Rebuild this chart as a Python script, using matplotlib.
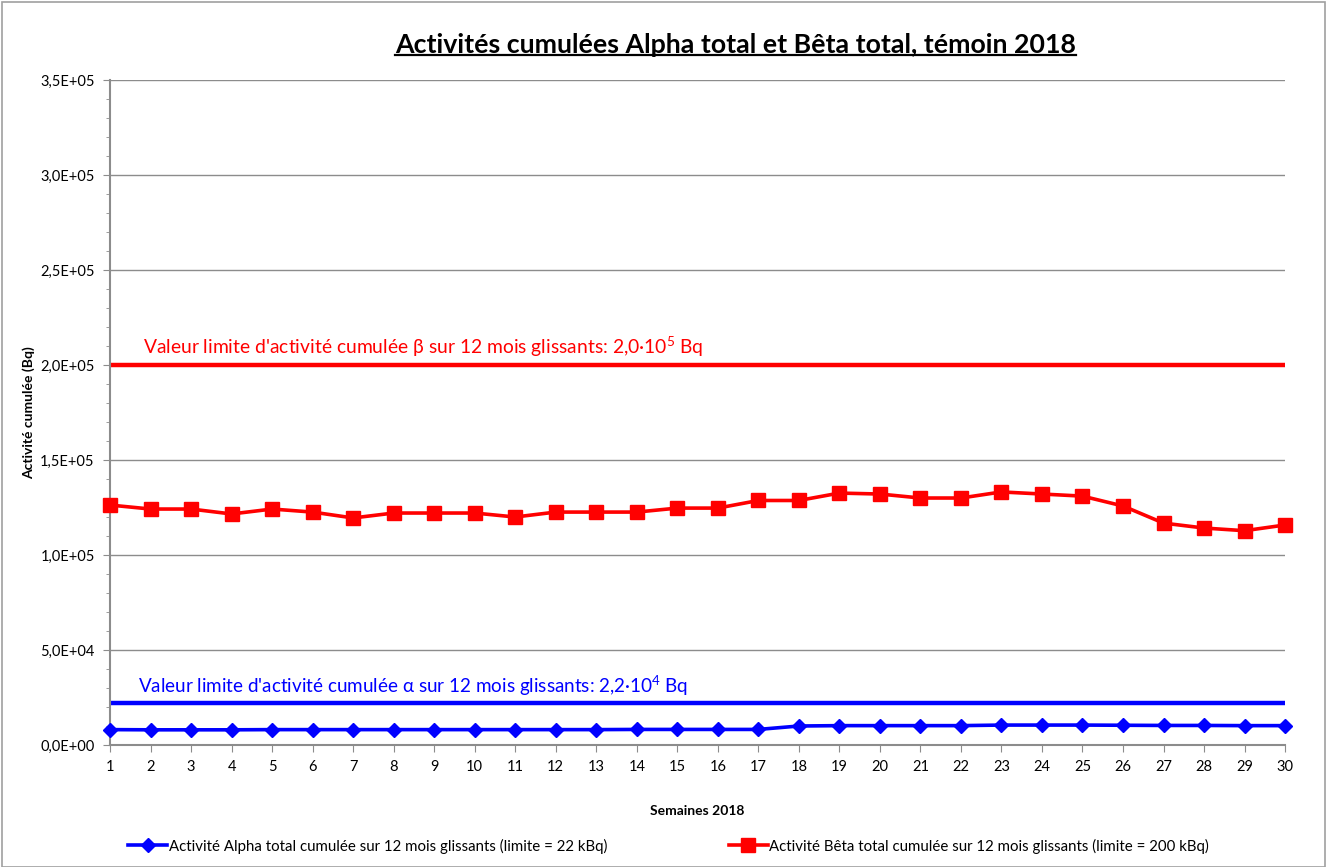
import numpy as np
import matplotlib.pyplot as plt
from matplotlib.ticker import MultipleLocator, FuncFormatter
from matplotlib.lines import Line2D
from matplotlib.patches import Rectangle

plt.rcParams['font.family'] = ['Lato', 'DejaVu Sans']
plt.rcParams['mathtext.fontset'] = 'custom'
plt.rcParams['mathtext.rm'] = 'Lato'
plt.rcParams['mathtext.it'] = 'Lato'

# donnees
semaines = list(range(1, 31))
alpha = [8.1e3, 8.0e3, 8.0e3, 8.0e3, 8.1e3, 8.1e3, 8.1e3, 8.1e3, 8.1e3, 8.1e3,
         8.1e3, 8.1e3, 8.1e3, 8.2e3, 8.2e3, 8.2e3, 8.2e3, 1.00e4, 1.02e4, 1.02e4,
         1.02e4, 1.02e4, 1.05e4, 1.05e4, 1.05e4, 1.04e4, 1.03e4, 1.03e4, 1.02e4, 1.02e4]
beta = [1.263e5, 1.242e5, 1.242e5, 1.216e5, 1.242e5, 1.226e5, 1.195e5, 1.221e5, 1.221e5, 1.221e5,
        1.200e5, 1.226e5, 1.226e5, 1.226e5, 1.247e5, 1.247e5, 1.287e5, 1.287e5, 1.326e5, 1.321e5,
        1.300e5, 1.300e5, 1.332e5, 1.321e5, 1.310e5, 1.258e5, 1.168e5, 1.142e5, 1.128e5, 1.158e5]
limite_alpha = 2.2e4
limite_beta = 2.0e5

label_alpha = "Activité Alpha total cumulée sur 12 mois glissants (limite = 22 kBq)"
label_beta = "Activité Bêta total cumulée sur 12 mois glissants (limite = 200 kBq)"
texte_alpha = "Valeur limite d'activité cumulée α sur 12 mois glissants: 2,2·10$^4$ Bq"
texte_beta = "Valeur limite d'activité cumulée β sur 12 mois glissants: 2,0·10$^5$ Bq"
titre = "Activités cumulées Alpha total et Bêta total, témoin 2018"

fig = plt.figure(figsize=(13.27, 8.67), dpi=100)
ax = fig.add_axes([0.0829, 0.1407, 0.8855, 0.767])

gris = '#8c8c8c'

ax.axhline(limite_beta, color='#ff0000', lw=3.2, zorder=2)
ax.axhline(limite_alpha, color='#0000ff', lw=3.2, zorder=2)
ax.plot(semaines, alpha, color='#0000ff', lw=2.6, marker='D', ms=7.5,
        label=label_alpha, zorder=3, clip_on=False)
ax.plot(semaines, beta, color='#ff0000', lw=2.6, marker='s', ms=9.5,
        label=label_beta, zorder=3, clip_on=False)

# annotations des limites (position en coordonnees axes)
ax.text(0.028, 2.03e5, texte_beta, transform=ax.get_yaxis_transform(),
        color='#ff0000', fontsize=13.9, va='bottom', ha='left')
ax.text(0.024, 2.45e4, texte_alpha, transform=ax.get_yaxis_transform(),
        color='#0000ff', fontsize=13.6, va='bottom', ha='left')

ax.set_xlim(1, 30)
ax.set_ylim(0, 3.5e5)
ax.xaxis.set_major_locator(MultipleLocator(1))
ax.yaxis.set_major_locator(MultipleLocator(5e4))
ax.yaxis.set_minor_locator(MultipleLocator(1e4))


def fmt_sci(v, pos):
    if v == 0:
        return "0,0E+00"
    exp = int(np.floor(np.log10(abs(v))))
    mant = v / 10 ** exp
    return f"{mant:.1f}".replace('.', ',') + f"E+{exp:02d}"


ax.yaxis.set_major_formatter(FuncFormatter(fmt_sci))
ax.grid(axis='y', which='major', color=gris, lw=1.0)
ax.set_axisbelow(True)

for s in ['top', 'right']:
    ax.spines[s].set_visible(False)
for s in ['left', 'bottom']:
    ax.spines[s].set_color(gris)
    ax.spines[s].set_linewidth(1.5)
ax.tick_params(axis='both', which='both', color=gris, direction='out')
ax.tick_params(axis='y', which='major', length=5, labelsize=10.5, pad=6)
ax.tick_params(axis='y', which='minor', length=3)
ax.tick_params(axis='x', which='major', length=5, labelsize=10.5, pad=6)

ax.set_xlabel("Semaines 2018", fontsize=10, fontweight='bold', labelpad=22)
ax.set_ylabel("Activité cumulée (Bq)", fontsize=10, fontweight='bold', labelpad=4)

t = fig.text(0.554, 0.948, titre, fontsize=19.3, fontweight='bold', ha='center', va='center')

leg = fig.legend(loc='center', bbox_to_anchor=(0.5038, 0.024), ncol=2, frameon=False,
                 fontsize=10.8, handlelength=2.6, handletextpad=0.1, columnspacing=8.13)

# soulignement du titre
fig.canvas.draw()
bb = t.get_window_extent().transformed(fig.transFigure.inverted())
fig.add_artist(Line2D([bb.x0, bb.x1], [bb.y0 + 0.002, bb.y0 + 0.002],
                      transform=fig.transFigure, color='black', lw=1.6))

# cadre
fig.add_artist(Rectangle((0.0015, 0.0), 0.997, 0.998, transform=fig.transFigure,
                         fill=False, edgecolor='#a0a0a0', lw=1.2))

fig.savefig('out.png', dpi=100)
